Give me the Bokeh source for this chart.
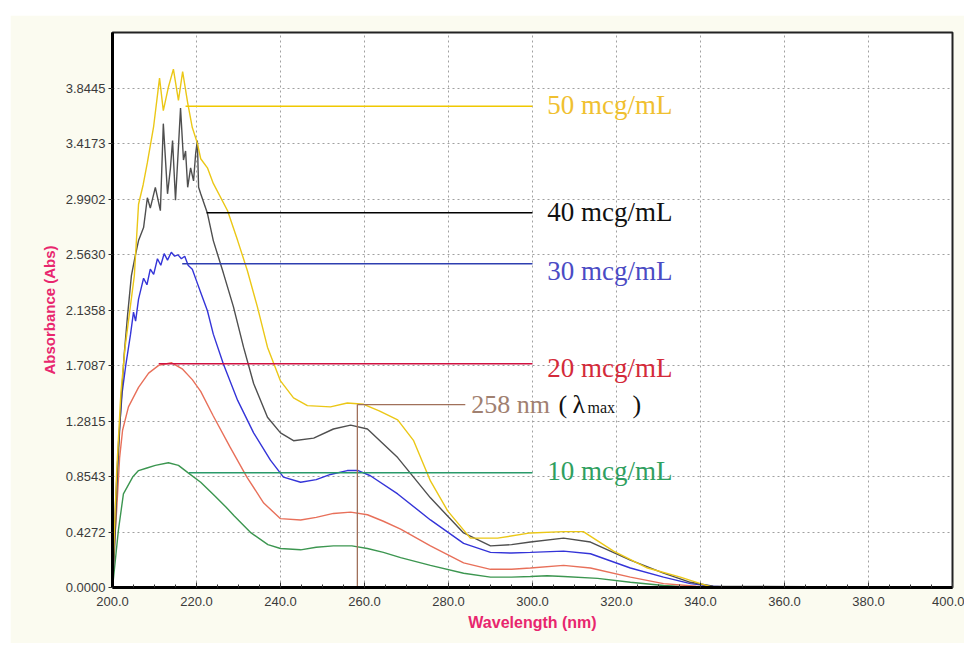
from bokeh.plotting import figure
from bokeh.models import Range1d, FixedTicker, ColumnDataSource, Spacer, NumeralTickFormatter
from bokeh.layouts import column, row
from bokeh.embed import file_html
from bokeh.resources import INLINE
from bokeh.core.properties import value

# ---------------- data ----------------
y_step = 0.427166
y_tick_labels = ["0.0000", "0.4272", "0.8543", "1.2815", "1.7087",
                 "2.1358", "2.5630", "2.9902", "3.4173", "3.8445"]
x_ticks = [200, 220, 240, 260, 280, 300, 320, 340, 360, 380, 400]
x_tick_labels = ["200.0", "220.0", "240.0", "260.0", "280.0", "300.0",
                 "320.0", "340.0", "360.0", "380.0", "400.0"]

# 10 mcg/mL (green)
wl_10 = [200.0, 200.2, 201.4, 202.6, 204.8, 206.2, 208.2, 210.2, 213.3, 215.7, 218.1,
         221.0, 224.5, 227.0, 229.0, 233.0, 237.0, 240.0, 244.8, 248.5, 252.6, 257.0,
         260.7, 264.5, 268.6, 275.7, 283.6, 290.0, 295.0, 299.5, 303.5, 307.4, 315.5,
         323.3, 331.2, 339.0, 345.0, 400.0]
abs_10 = [0.0, 0.06, 0.44, 0.72, 0.85, 0.90, 0.92, 0.94, 0.96, 0.94, 0.88,
          0.81, 0.70, 0.62, 0.55, 0.42, 0.33, 0.30, 0.29, 0.31, 0.32, 0.32,
          0.30, 0.27, 0.23, 0.17, 0.11, 0.08, 0.08, 0.085, 0.09, 0.085, 0.07,
          0.04, 0.015, 0.0, 0.0, 0.0]

# 20 mcg/mL (red)
wl_20 = [200.0, 200.3, 201.0, 201.7, 202.4, 203.8, 206.2, 208.6, 211.0, 214.0, 216.7,
         219.0, 221.0, 224.0, 228.0, 232.0, 236.0, 240.0, 244.8, 248.5, 252.6, 256.7,
         260.7, 264.5, 268.6, 275.7, 283.6, 290.0, 295.0, 299.5, 307.4, 313.8, 323.3,
         331.2, 339.0, 345.0, 400.0]
abs_20 = [0.0, 0.25, 0.60, 1.00, 1.21, 1.39, 1.54, 1.65, 1.71, 1.73, 1.68,
          1.60, 1.51, 1.32, 1.08, 0.85, 0.65, 0.53, 0.52, 0.54, 0.57, 0.58,
          0.56, 0.51, 0.45, 0.32, 0.19, 0.14, 0.14, 0.15, 0.17, 0.15, 0.08,
          0.03, 0.01, 0.0, 0.0]

# 30 mcg/mL (blue)
wl_30 = [200.0, 200.3, 200.8, 201.5, 202.3, 203.2, 204.3, 205.0, 205.5, 206.2, 206.8,
         207.4, 208.2, 209.0, 209.8, 210.7, 211.5, 212.3, 213.1, 214.0, 214.8, 215.6,
         216.4, 217.2, 218.0, 219.0, 220.0, 221.0, 222.6, 224.0, 226.4, 229.8, 233.6,
         237.6, 240.7, 244.8, 248.5, 251.9, 255.9, 258.5, 261.4, 267.9, 275.7, 283.6,
         290.0, 295.0, 299.5, 307.4, 313.8, 323.3, 331.2, 337.6, 343.0, 348.0, 400.0]
abs_30 = [0.0, 0.30, 0.70, 1.15, 1.50, 1.72, 1.95, 2.12, 2.05, 2.22, 2.30,
          2.38, 2.33, 2.45, 2.41, 2.53, 2.48, 2.57, 2.52, 2.58, 2.55, 2.56,
          2.53, 2.55, 2.48, 2.45, 2.36, 2.27, 2.13, 1.95, 1.72, 1.44, 1.19,
          0.98, 0.85, 0.81, 0.83, 0.87, 0.90, 0.90, 0.86, 0.72, 0.52, 0.34,
          0.27, 0.265, 0.27, 0.28, 0.26, 0.15, 0.08, 0.03, 0.01, 0.0, 0.0]

# 40 mcg/mL (black)
wl_40 = [200.0, 200.5, 201.2, 202.0, 202.8, 203.6, 204.5, 205.4, 206.2, 207.4, 208.3,
         209.0, 210.2, 211.4, 212.1, 213.1, 213.8, 214.3, 215.0, 215.7, 216.2, 216.9,
         217.4, 217.9, 218.6, 219.3, 219.8, 220.2, 220.5, 221.0, 222.6, 224.0, 226.4,
         228.8, 231.2, 233.6, 236.9, 240.0, 243.1, 247.9, 252.6, 256.7, 260.7, 267.9,
         275.7, 283.6, 290.0, 295.0, 299.5, 307.4, 313.8, 323.3, 331.2, 337.6, 343.0, 400.0]
abs_40 = [0.0, 0.30, 0.90, 1.40, 1.80, 2.10, 2.40, 2.55, 2.67, 2.77, 3.00,
          2.92, 3.08, 2.90, 3.57, 3.03, 3.23, 3.44, 2.98, 3.39, 3.69, 3.29,
          3.36, 3.08, 3.23, 3.13, 3.34, 3.44, 3.08, 3.03, 2.88, 2.67, 2.42,
          2.16, 1.85, 1.57, 1.31, 1.19, 1.13, 1.15, 1.22, 1.25, 1.22, 1.00,
          0.69, 0.42, 0.32, 0.33, 0.35, 0.38, 0.35, 0.21, 0.11, 0.04, 0.01, 0.0]

# 50 mcg/mL (yellow)
wl_50 = [200.0, 200.3, 201.0, 202.0, 203.0, 204.0, 205.2, 206.2, 207.3, 208.3, 209.8,
         211.2, 212.1, 213.3, 214.5, 215.7, 216.7, 217.9, 219.0, 220.2, 221.0, 222.6,
         224.0, 227.4, 229.8, 232.1, 234.5, 236.9, 240.0, 243.1, 246.4, 251.9, 255.9,
         259.8, 263.5, 267.9, 271.7, 275.7, 279.8, 285.2, 291.7, 299.5, 307.4, 312.1,
         319.3, 327.4, 335.2, 340.0, 343.0, 400.0]
abs_50 = [0.0, 0.30, 0.90, 1.50, 1.85, 2.10, 2.40, 2.95, 3.10, 3.27, 3.55,
          3.92, 3.67, 3.85, 3.99, 3.75, 3.97, 3.73, 3.54, 3.42, 3.30, 3.23,
          3.11, 2.90, 2.67, 2.44, 2.16, 1.85, 1.59, 1.46, 1.40, 1.39, 1.42,
          1.41, 1.36, 1.29, 1.13, 0.82, 0.59, 0.38, 0.38, 0.42, 0.43, 0.43,
          0.28, 0.15, 0.08, 0.03, 0.0, 0.0]

# annotation lines (concentration markers)
conc_labels = ["50 mcg/mL", "40 mcg/mL", "30 mcg/mL", "20 mcg/mL", "10 mcg/mL"]
conc_levels = [3.704, 2.884, 2.491, 1.722, 0.883]
conc_start = [217.4, 222.4, 216.6, 211.0, 218.2]
conc_end = 300.0
lambda_max = 258.3
lambda_level = 1.408
lambda_line_end = 284.0

# ---------------- styles ----------------
curve_colors = ["#EBC716", "#4F4F4F", "#3434D8", "#E8705A", "#3C9650"]
marker_colors = ["#F0C800", "#000000", "#2E3FB0", "#D01040", "#2A9A6A"]
text_colors = ["#F0C030", "#111111", "#4B4BC4", "#D42A3A", "#2FA060"]
text_drop_px = [-1, -1, 7, 4, -2]
pink = "#E8266E"

y_top = 10 * y_step
frame_h = 555
upp = y_top / frame_h  # data units per pixel (y)

p = figure(width=954, height=628, output_backend="svg", toolbar_location=None,
           x_range=Range1d(200, 400), y_range=Range1d(0, y_top),
           min_border_left=102, min_border_right=12, min_border_top=17, min_border_bottom=56,
           background_fill_color="white", border_fill_color="#FBFBF0")
p.outline_line_color = "#222222"
p.outline_line_width = 2

# axes
y_ticks = [i * y_step for i in range(len(y_tick_labels))]
p.yaxis.ticker = FixedTicker(ticks=y_ticks)
p.yaxis.formatter = NumeralTickFormatter(format="0.0000")
p.yaxis.major_label_overrides = {t: l for t, l in zip(y_ticks, y_tick_labels)}
p.xaxis.ticker = FixedTicker(ticks=x_ticks, minor_ticks=list(range(200, 401, 5)))
p.xaxis.major_label_overrides = {t: l for t, l in zip(x_ticks, x_tick_labels)}

for ax in (p.xaxis[0], p.yaxis[0]):
    ax.axis_line_color = "black"
    ax.axis_line_width = 3
    ax.major_label_text_font = "Liberation Sans"
    ax.major_label_text_font_size = "13px"
    ax.major_label_text_color = "#3a3a3a"
    ax.axis_label_text_font = "Liberation Sans"
    ax.axis_label_text_font_style = "bold"
    ax.axis_label_text_color = pink
    ax.major_tick_line_color = "#333333"
    ax.minor_tick_line_color = "#333333"

p.yaxis.axis_label = "Absorbance (Abs)"
p.yaxis.axis_label_text_font_size = "15px"
p.yaxis.major_tick_out = 4
p.yaxis.major_tick_in = 0
p.yaxis.minor_tick_line_color = None
p.yaxis.major_label_standoff = 3

p.xaxis.axis_label = "Wavelength (nm)"
p.xaxis.axis_label_text_font_size = "16px"
p.xaxis.major_tick_out = 0
p.xaxis.major_tick_in = 5
p.xaxis.minor_tick_in = 3
p.xaxis.minor_tick_out = 0
p.xaxis.major_label_standoff = 9
p.xaxis.axis_label_standoff = 5

for g in (p.xgrid[0], p.ygrid[0]):
    g.grid_line_color = "#A0A0A0"
    g.grid_line_dash = "2 3"
    g.grid_line_width = 1

# curves
series = [(wl_50, abs_50), (wl_40, abs_40), (wl_30, abs_30), (wl_20, abs_20), (wl_10, abs_10)]
for (wx, wy), c in zip(series[::-1], curve_colors[::-1]):
    p.line(wx, wy, line_color=c, line_width=1.4)

# concentration marker lines
for s, lv, c in zip(conc_start, conc_levels, marker_colors):
    p.line([s, conc_end], [lv, lv], line_color=c, line_width=1.5)

# lambda max marker
lam_color = "#A0705A"
p.line([lambda_max, lambda_max], [0, lambda_level], line_color=lam_color, line_width=1.3)
p.line([lambda_max, lambda_line_end], [lambda_level, lambda_level], line_color=lam_color, line_width=1.3)

# labels
serif = value("Liberation Serif")
label_src = ColumnDataSource(dict(
    x=[303.5] * len(conc_labels),
    y=[lv - d * upp for lv, d in zip(conc_levels, text_drop_px)],
    text=conc_labels,
    color=text_colors,
))
p.text(x="x", y="y", text="text", source=label_src, text_color="color",
       text_font=serif, text_font_size="27px", text_baseline="alphabetic", text_align="left")

lam_y = lambda_level - 0 * upp
p.text(x=[285.4], y=[lam_y], text=["258 nm"], text_color="#A08070",
       text_font=serif, text_font_size="26px", text_baseline="alphabetic")
p.text(x=[306.2], y=[lam_y], text=["("], text_color="#111111",
       text_font=serif, text_font_size="26px", text_baseline="alphabetic")
p.text(x=[309.5], y=[lam_y], text=["λ"], text_color="#111111",
       text_font=serif, text_font_size="26px", text_baseline="alphabetic")
p.text(x=[313.1], y=[lam_y - 3 * upp], text=["max"], text_color="#111111",
       text_font=serif, text_font_size="16px", text_baseline="alphabetic")
p.text(x=[323.8], y=[lam_y], text=[")"], text_color="#111111",
       text_font=serif, text_font_size="26px", text_baseline="alphabetic")

layout = column(Spacer(height=15), row(Spacer(width=10), p))
open("out.html", "w").write(file_html(layout, INLINE))
